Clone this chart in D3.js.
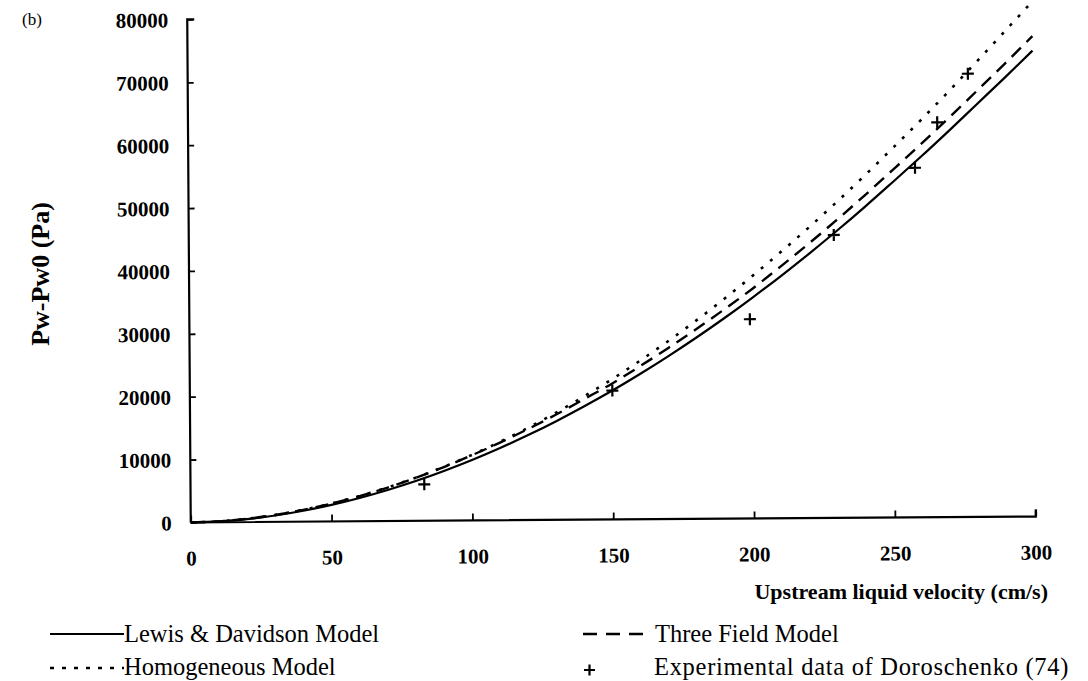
<!DOCTYPE html>
<html>
<head>
<meta charset="utf-8">
<script src="https://cdn.jsdelivr.net/npm/d3@7/dist/d3.min.js"></script>
<style>
  html, body { margin: 0; padding: 0; background: #fff; }
  svg { display: block; }
  text { font-family: "Liberation Serif", "Times New Roman", serif; fill: #000; }
</style>
</head>
<body>
<svg id="chart" width="1088" height="681"></svg>
<script>
// ---- data ----
const velocity = [0,10,20,30,40,50,60,70,80,90,100,110,120,130,140,150,160,170,180,190,200,210,220,230,240,250,260,270,280,290,300];
const lewisDavidson = [0,130,474,1012,1733,2630,3697,4936,6330,7900,9615,11490,13515,15700,18040,20510,23150,25930,28850,31920,35140,38490,41990,45630,49410,53330,57300,61400,65600,69800,74100];
const threeField = [0,140,512,1093,1872,2840,3993,5330,6836,8530,10380,12360,14490,16760,19190,21640,24380,27230,30210,33320,36550,40030,43620,47360,51240,55250,59300,63450,67700,72000,76400];
const homogeneous = [0,141,514,1098,1880,2854,4011,5356,6868,8572,10430,12470,14680,17070,19630,22340,25250,28330,31570,34990,38580,42300,46160,50200,54380,58700,63100,67650,72350,77100,81900];
const expVelocity = [83,150,199,229,258,266,277];
const expPressure = [5800,20500,31700,45000,55600,62800,70500];
const xTicks = [0,50,100,150,200,250,300];
const yTicks = [0,10000,20000,30000,40000,50000,60000,70000,80000];

const svg = d3.select("#chart");

const x = d3.scaleLinear().domain([0,300]).range([189,1034]);
const y = d3.scaleLinear().domain([0,80000]).range([519.5,16.5]);

// plot group, slightly rotated like the scanned original
const g = svg.append("g").attr("transform","rotate(-0.4,610,270)");

// axes
const xAxis = d3.axisBottom(x).tickValues(xTicks).tickSize(-7).tickPadding(0).tickFormat(d3.format("d"));
const gx = g.append("g").attr("transform",`translate(0,${y(0)})`).call(xAxis);
gx.select(".domain").attr("stroke","#000").attr("stroke-width",2.2).attr("d",`M${x(0)},0H${x(300)}V-7`);
gx.selectAll(".tick line").attr("stroke","#000").attr("stroke-width",1.8);
gx.selectAll(".tick text").attr("y",43).attr("dy",null)
  .style("font-family","'Liberation Serif', serif").style("font-size","21px").style("font-weight","bold");

const yAxis = d3.axisLeft(y).tickValues(yTicks).tickSize(-6).tickPadding(0).tickFormat(d3.format("d"));
const gy = g.append("g").attr("transform",`translate(${x(0)},0)`).call(yAxis);
gy.select(".domain").attr("stroke","#000").attr("stroke-width",2.2).attr("d",`M7,${y(80000)}H0V${y(0)}`);
gy.selectAll(".tick line").attr("stroke","#000").attr("stroke-width",1.8);
gy.selectAll(".tick text").attr("x",-19).attr("dy","0.35em")
  .style("font-family","'Liberation Serif', serif").style("font-size","21px").style("font-weight","bold");

// curves
const line = d3.line().x((d,i)=>x(velocity[i])).y(d=>y(d)).curve(d3.curveMonotoneX);
g.append("path").datum(lewisDavidson).attr("d",line)
  .attr("fill","none").attr("stroke","#000").attr("stroke-width",2.2);
g.append("path").datum(threeField).attr("d",line)
  .attr("fill","none").attr("stroke","#000").attr("stroke-width",2.4).attr("stroke-dasharray","13,8");
g.append("path").datum(homogeneous).attr("d",line)
  .attr("fill","none").attr("stroke","#000").attr("stroke-width",2.6).attr("stroke-dasharray","3,9");

// experimental points (+)
const pts = g.append("g");
expVelocity.forEach((v,i)=>{
  const cx = x(v), cy = y(expPressure[i]);
  pts.append("path").attr("d",`M${cx-6},${cy}H${cx+6}M${cx},${cy-6}V${cy+6}`)
    .attr("stroke","#000").attr("stroke-width",2.2).attr("fill","none");
});

// labels
svg.append("text").attr("x",22).attr("y",25).style("font-size","17px").text("(b)");

svg.append("text").attr("transform","translate(49,274) rotate(-90)")
  .attr("text-anchor","middle").style("font-size","26px").style("font-weight","bold")
  .text("Pw-Pw0 (Pa)");

svg.append("text").attr("x",1048).attr("y",599).attr("text-anchor","end")
  .style("font-size","22px").style("font-weight","bold")
  .text("Upstream liquid velocity (cm/s)");

// legend
const legendNames = ["Lewis & Davidson Model","Homogeneous Model","Three Field Model","Experimental data of Doroschenko (74)"];
const lg = svg.append("g");
lg.append("line").attr("x1",50).attr("x2",124).attr("y1",634).attr("y2",634).attr("stroke","#000").attr("stroke-width",2.2);
lg.append("text").attr("x",124).attr("y",642).style("font-size","24.5px").text(legendNames[0]);
lg.append("line").attr("x1",50).attr("x2",124).attr("y1",668).attr("y2",668).attr("stroke","#000").attr("stroke-width",2.6).attr("stroke-dasharray","4,8");
lg.append("text").attr("x",124).attr("y",675).style("font-size","24.5px").text(legendNames[1]);
lg.append("line").attr("x1",583).attr("x2",651).attr("y1",634).attr("y2",634).attr("stroke","#000").attr("stroke-width",2.4).attr("stroke-dasharray","14,9");
lg.append("text").attr("x",655).attr("y",642).style("font-size","24.5px").text(legendNames[2]);
lg.append("path").attr("d","M584,670H595M589.5,664.5V675.5").attr("stroke","#000").attr("stroke-width",2.2);
lg.append("text").attr("x",654).attr("y",675).style("font-size","24.5px").style("letter-spacing","0.7px").text(legendNames[3]);
</script>
</body>
</html>
